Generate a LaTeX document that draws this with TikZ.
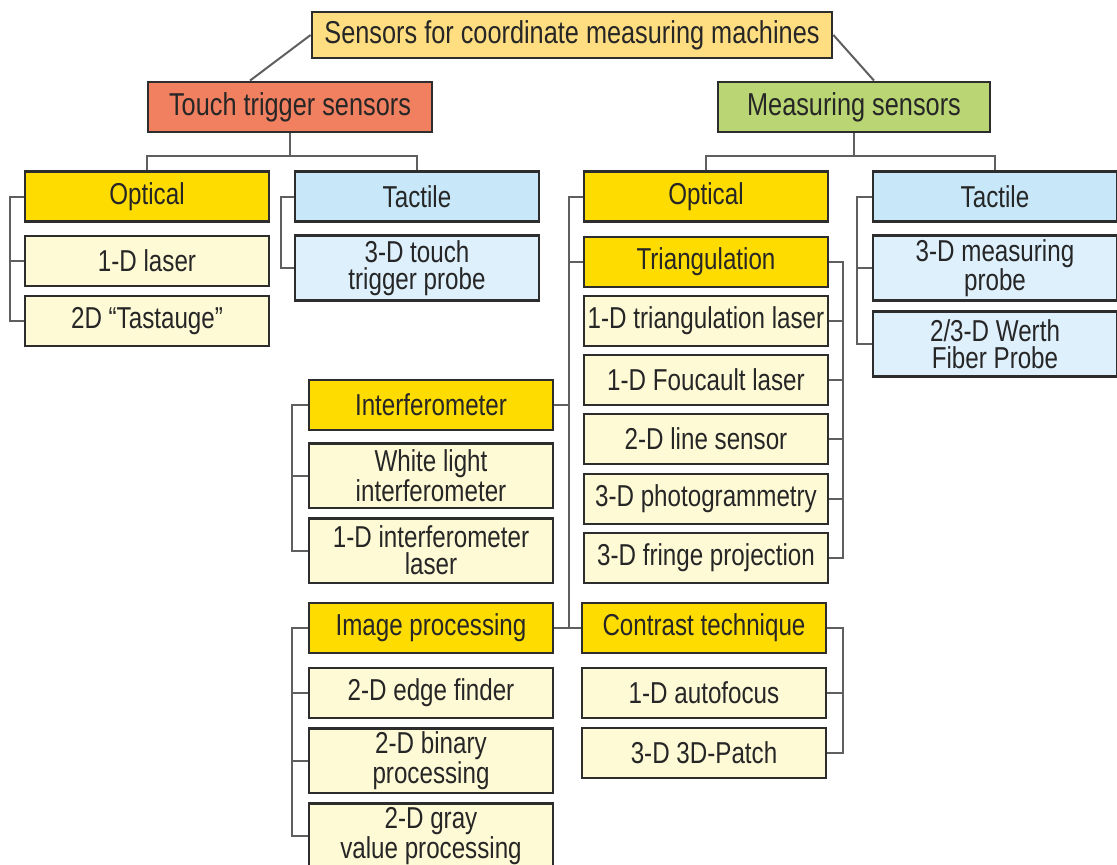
\documentclass[tikz,border=0pt]{standalone}
\usepackage{fontspec}
\setmainfont{Liberation Sans}[FakeStretch=0.8]
\usetikzlibrary{positioning, calc}
\definecolor{rootfill}{RGB}{255,222,130}
\definecolor{touchred}{RGB}{240,128,96}
\definecolor{measgreen}{RGB}{186,214,116}
\definecolor{optgold}{RGB}{255,220,0}
\definecolor{leafcream}{RGB}{255,250,214}
\definecolor{tacblue}{RGB}{200,232,250}
\definecolor{tacpale}{RGB}{222,240,252}
\definecolor{boxline}{RGB}{45,45,45}
\definecolor{linkgray}{RGB}{95,95,95}

\begin{document}
\begin{tikzpicture}[
    x=0.25mm, y=-0.25mm, % one unit = one pixel of the 1117 x 865 sheet
    sensorbox/.style={rectangle, draw=boxline, line width=0.7mm, minimum width=61mm, minimum height=12.5mm, inner xsep=0.3mm, inner ysep=0.3mm, align=center, text=black!85, font=\fontsize{21.5}{19}\selectfont},
    groupbox/.style={sensorbox, fill=optgold},
    leafbox/.style={sensorbox, fill=leafcream},
    tacgroup/.style={sensorbox, fill=tacblue},
    tacleaf/.style={sensorbox, fill=tacpale},
    tallbox/.style={minimum height=16.2mm},
    link/.style={draw=linkgray, line width=0.5mm},
]
\useasboundingbox (0,0) rectangle (1117,865);

% Root and the two sensor families
\node[sensorbox, fill=rootfill, minimum width=130mm, minimum height=11.5mm, font=\fontsize{22.5}{19}\selectfont] (root) at (572,35) {Sensors for coordinate measuring machines};
\node[sensorbox, fill=touchred, minimum width=71mm, font=\fontsize{22.5}{19}\selectfont] (touch) at (290,107) {Touch trigger sensors};
\node[sensorbox, fill=measgreen, minimum width=68mm, font=\fontsize{22.5}{19}\selectfont] (meas) at (854,107) {Measuring sensors};

\draw[link] (root.west) -- ([xshift=-10mm]touch.north);
\draw[link] (root.east) -- ([xshift=5mm]meas.north);

% Touch trigger branch
\node[groupbox] (topt) at (147,196.5) {Optical};
\node[tacgroup] (ttac) at (417,196.5) {Tactile};
\node[leafbox] (laser) at (147,261) {1-D laser};
\node[leafbox] (tastauge) at (147,321) {2D “Tastauge”};
\node[tacleaf, tallbox] (ttprobe) at (417,268) {3-D touch\\trigger probe};

\draw[link] (touch.south) -- ++(0,23) coordinate (tsplit);
\draw[link] (topt.north) |- (tsplit) -| (ttac.north);
\draw[link] (topt.west) -- ++(-14,0) |- (tastauge.west);
\draw[link] (laser.west) -- ++(-14,0);
\draw[link] (ttac.west) -- ++(-13,0) |- (ttprobe.west);

% Measuring branch
\node[groupbox] (mopt) at (706,196.5) {Optical};
\node[tacgroup] (mtac) at (995,196.5) {Tactile};
\node[tacleaf, tallbox] (mprobe) at (995,268) {3-D measuring\\probe};
\node[tacleaf, tallbox] (werth) at (995,344) {2/3-D Werth\\Fiber Probe};

\draw[link] (meas.south) -- ++(0,23) coordinate (msplit);
\draw[link] (mopt.north) |- (msplit) -| (mtac.north);
\draw[link] (mtac.west) -- ++(-15,0) |- (werth.west);
\draw[link] (mprobe.west) -- ++(-15,0);

% Triangulation column
\node[groupbox] (triang) at (706,262) {Triangulation};
\node[leafbox] (trilaser) at (706,321) {1-D triangulation laser};
\node[leafbox] (foucault) at (706,380) {1-D Foucault laser};
\node[leafbox] (linesens) at (706,439) {2-D line sensor};
\node[leafbox] (photo) at (706,499) {3-D photogrammetry};
\node[leafbox] (fringe) at (706,558) {3-D fringe projection};

\draw[link] (triang.east) -- ++(14,0) |- (fringe.east);
\foreach \n in {trilaser, foucault, linesens, photo}
    \draw[link] (\n.east) -- ++(14,0);

% Interferometer
\node[groupbox] (interf) at (431,405) {Interferometer};
\node[leafbox, tallbox] (white) at (431,475.5) {White light\\interferometer};
\node[leafbox, tallbox] (interlaser) at (431,550.5) {1-D interferometer\\laser};

\draw[link] (interf.west) -- ++(-16,0) |- (interlaser.west);
\draw[link] (white.west) -- ++(-16,0);

% Image processing
\node[groupbox] (imgproc) at (431,628) {Image processing};
\node[leafbox] (edge) at (431,693) {2-D edge finder};
\node[leafbox, tallbox] (binary) at (431,760.5) {2-D binary\\processing};
\node[leafbox, tallbox] (gray) at (431,836) {2-D gray\\value processing};

\draw[link] (imgproc.west) -- ++(-16,0) |- (gray.west);
\foreach \n in {edge, binary}
    \draw[link] (\n.west) -- ++(-16,0);

% Contrast technique
\node[groupbox] (contrast) at (704,628) {Contrast technique};
\node[leafbox] (autofocus) at (704,693) {1-D autofocus};
\node[leafbox] (patch) at (704,753) {3-D 3D-Patch};

\draw[link] (contrast.east) -- ++(16,0) |- (patch.east);
\draw[link] (autofocus.east) -- ++(16,0);

% Optical spine of the measuring sensors
\draw[link] (mopt.west) -- ++(-14,0) coordinate (obar) -- (obar |- contrast.west);
\draw[link] (triang.west) -- (triang.west -| obar);
\draw[link] (interf.east) -- (interf.east -| obar);
\draw[link] (imgproc.east) -- (contrast.west);

\end{tikzpicture}
\end{document}
